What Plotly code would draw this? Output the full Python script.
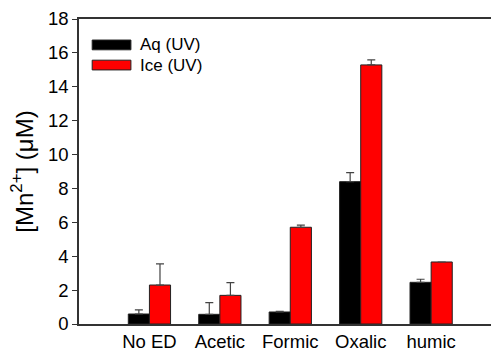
import plotly.graph_objects as go

# Mn2+ release under UV irradiation with different electron donors
categories = ["No ED", "Acetic", "Formic", "Oxalic", "humic"]
aq_values = [0.59, 0.57, 0.71, 8.40, 2.46]
aq_errors = [0.24, 0.69, 0.03, 0.53, 0.18]
ice_values = [2.30, 1.69, 5.71, 15.29, 3.66]
ice_errors = [1.25, 0.75, 0.12, 0.30, 0.0]
series_names = ["Aq (UV)", "Ice (UV)"]
y_ticks = [0, 2, 4, 6, 8, 10, 12, 14, 16, 18]

FONT = "Liberation Sans, Arial, sans-serif"
x_idx = list(range(len(categories)))

fig = go.Figure()
for name, vals, errs, color in [
    (series_names[0], aq_values, aq_errors, "#000000"),
    (series_names[1], ice_values, ice_errors, "#ff0000"),
]:
    fig.add_trace(go.Bar(
        x=x_idx, y=vals, name=name,
        marker=dict(color=color, line=dict(color="#222222", width=1)),
        error_y=dict(type="data", array=errs, arrayminus=[0] * len(errs),
                     symmetric=False, color="#444444", thickness=1.2, width=4),
        showlegend=False,
    ))

# legend drawn as wide swatches with labels
legend_rows = [(series_names[0], "#000000", 0.915), (series_names[1], "#ff0000", 0.849)]
for label, color, yy in legend_rows:
    fig.add_shape(type="rect", xref="paper", yref="paper",
                  x0=0.032, x1=0.126, y0=yy - 0.016, y1=yy + 0.016,
                  fillcolor=color, line=dict(color="#222222", width=1))
    fig.add_annotation(xref="paper", yref="paper", x=0.144, y=yy, text=label,
                       showarrow=False, xanchor="left", yanchor="middle",
                       font=dict(family=FONT, size=17, color="#000000"))

fig.update_layout(
    width=491, height=353,
    margin=dict(l=79, r=0, t=19, b=29),
    paper_bgcolor="white", plot_bgcolor="white",
    barmode="group", bargap=0.4, bargroupgap=0,
    font=dict(family=FONT, size=18, color="#000000"),
    xaxis=dict(
        range=[-1, 4.85], tickmode="array", tickvals=x_idx, ticktext=categories,
        showline=True, linecolor="#333333", linewidth=1.5, mirror=True,
        ticks="", showgrid=False, zeroline=False,
        tickfont=dict(family=FONT, size=18.5),
    ),
    yaxis=dict(
        range=[0, 18], tickmode="array", tickvals=y_ticks,
        showline=True, linecolor="#333333", linewidth=1.5,
        ticks="outside", ticklen=5, tickcolor="#333333",
        showgrid=False, zeroline=False,
        tickfont=dict(family=FONT, size=18.5),
        title=dict(text="[Mn<sup>2+</sup>] (\u03bcM)", standoff=8,
                   font=dict(family=FONT, size=24)),
    ),
)

fig.write_html("out.html")
